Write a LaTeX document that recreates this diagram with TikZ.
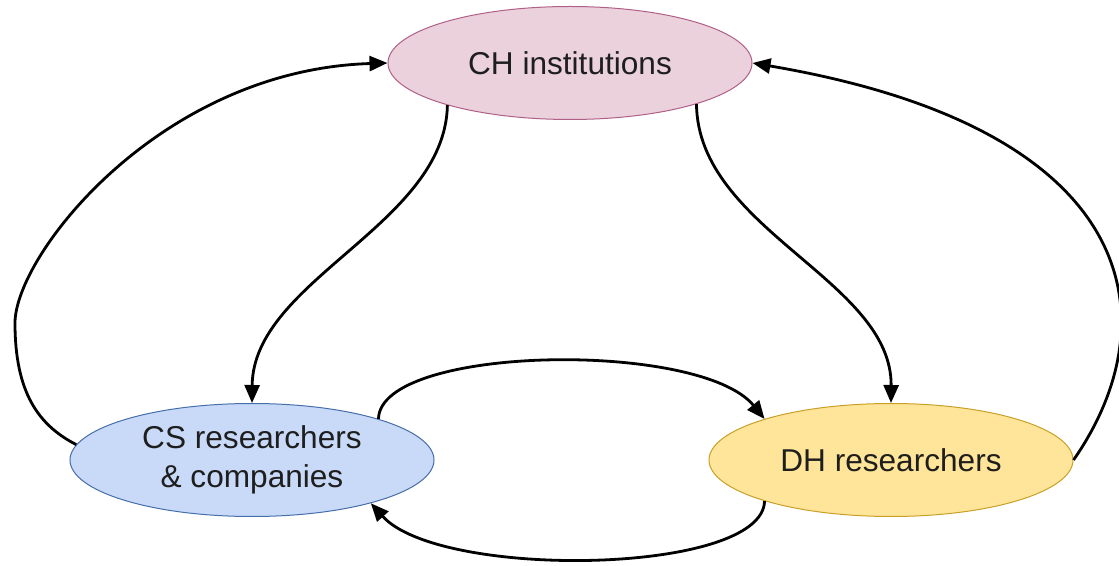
\documentclass[tikz,border=0pt]{standalone}
\usepackage{fontspec}
\setmainfont{Liberation Sans}
\usetikzlibrary{shapes.geometric,arrows.meta}
\definecolor{chfill}{RGB}{234,209,220}
\definecolor{chdraw}{RGB}{176,96,136}
\definecolor{csfill}{RGB}{201,218,248}
\definecolor{csdraw}{RGB}{70,110,170}
\definecolor{dhfill}{RGB}{255,229,153}
\definecolor{dhdraw}{RGB}{200,160,40}
\definecolor{txt}{RGB}{30,30,30}
\tikzset{
  actor/.style={ellipse, minimum width=182pt, minimum height=56.5pt, inner sep=0pt,
    line width=0.5pt, text=txt, align=center,
    font=\fontsize{15.8pt}{19.5pt}\selectfont},
  link/.style={line width=1.4pt, -{Triangle[length=9pt,width=7.5pt]}}
}
\begin{document}
\begin{tikzpicture}[x=0.5pt,y=-0.5pt]
\useasboundingbox (0,0) rectangle (1119,566);
\node[actor, fill=chfill, draw=chdraw] (ch) at (570,63) {CH institutions};
\node[actor, fill=csfill, draw=csdraw] (cs) at (252,460) {CS researchers\\\& companies};
\node[actor, fill=dhfill, draw=dhdraw] (dh) at (891,460) {DH researchers};
% outer left
\draw[link] (cs.175) .. controls (38,425) and (15,392) .. (15,323)
  .. controls (15,255) and (160,70) .. (ch.west);
% outer right
\draw[link] (dh.east) .. controls (1169,323) and (1147,130) .. (ch.east);
% CH -> CS
\draw[link] (ch.199) .. controls (445,225) and (253,280) .. (cs.north);
% CH -> DH
\draw[link] (ch.-18) .. controls (698,230) and (892,280) .. (dh.north);
% CS -> DH (top arc)
\draw[link] (cs.18) .. controls (380,345) and (700,340) .. (dh.162);
% DH -> CS (bottom arc)
\draw[link] (dh.198) .. controls (763,575) and (440,580) .. (cs.-20);
\end{tikzpicture}
\end{document}
